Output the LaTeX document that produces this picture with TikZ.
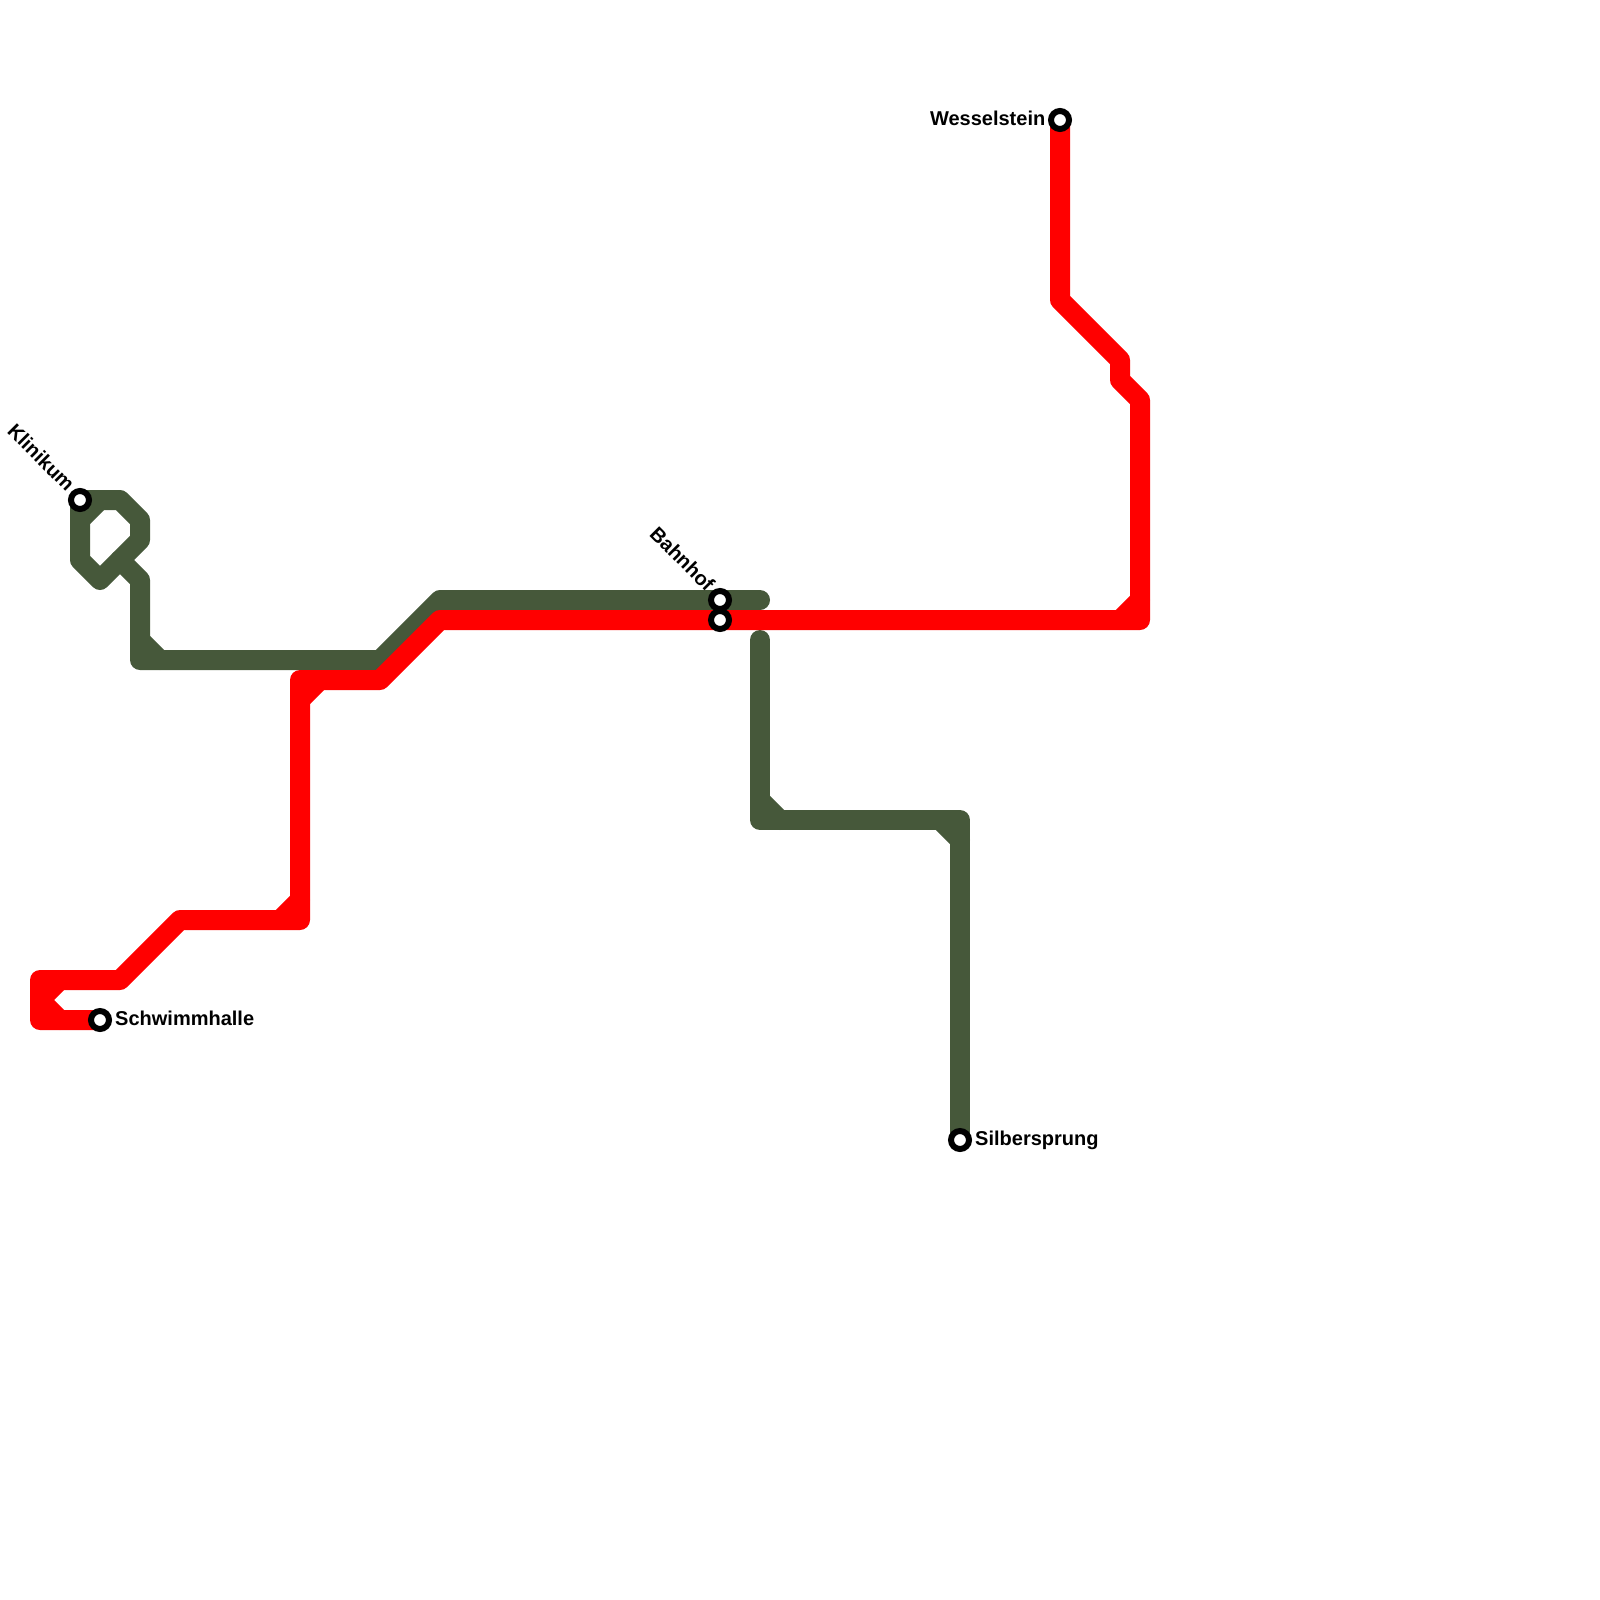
\documentclass[tikz,border=0pt]{standalone}
\usepackage{fontspec}
\setsansfont{Liberation Sans}
\usepackage{xcolor}
\definecolor{linegreen}{HTML}{46583A}
\definecolor{linered}{HTML}{FF0000}

\begin{document}
\begin{tikzpicture}[x=20pt, y=-20pt]
        \tikzstyle{route} = [line width=20pt, line cap=round, line join=round]
        \tikzstyle{station} = [draw=black, fill=white, circle, line width=6pt, minimum size=18pt, inner sep=0pt]
        \tikzstyle{stationlabel} = [inner sep=0pt, font=\sffamily\bfseries\fontsize{20}{24}\selectfont]

        \useasboundingbox (0,0) rectangle (80,80);

        % stations first, they are painted again on top below
        \coordinate (wesselstein) at (53,6);
        \coordinate (klinikum) at (4,25);
        \coordinate (bahnhofG) at (36,30);
        \coordinate (bahnhofR) at (36,31);
        \coordinate (schwimmhalle) at (5,51);
        \coordinate (silbersprung) at (48,57);

        % green line
        \draw[route, linegreen] (klinikum) -- (6,25) -- (7,26) -- (7,27) -- (5,29) -- (4,28) -- cycle;
        \draw[route, linegreen] (4,26) -- (5,25);
        \draw[route, linegreen] (6,28) -- (7,29) -- (7,33) -- (19,33) -- (22,30) -- (bahnhofG) -- (38,30);
        \draw[route, linegreen] (7,32) -- (8,33);
        \draw[route, linegreen] (38,32) -- (38,41) -- (48,41) -- (silbersprung);
        \draw[route, linegreen] (38,40) -- (39,41);
        \draw[route, linegreen] (47,41) -- (48,42);

        % red line
        \draw[route, linered] (wesselstein) -- (53,15) -- (56,18) -- (56,19) -- (57,20) -- (57,31) -- (bahnhofR) -- (22,31) -- (19,34) -- (15,34) -- (15,46) -- (9,46) -- (6,49) -- (2,49) -- (2,51) -- (schwimmhalle);
        \draw[route, linered] (57,30) -- (56,31);
        \draw[route, linered] (15,35) -- (16,34);
        \draw[route, linered] (15,45) -- (14,46);
        \draw[route, linered] (2,50) -- (3,49);
        \draw[route, linered] (2,50) -- (3,51);

        \node[station] (stWesselstein) at (wesselstein) {};
        \node[station] (stKlinikum) at (klinikum) {};
        \node[station] (stBahnhofG) at (bahnhofG) {};
        \node[station] (stBahnhofR) at (bahnhofR) {};
        \node[station] (stSchwimmhalle) at (schwimmhalle) {};
        \node[station] (stSilbersprung) at (silbersprung) {};

        \node[stationlabel, anchor=base east, xshift=-14.5pt, yshift=-5.5pt] (lblWesselstein) at (wesselstein) {Wesselstein};
        \node[stationlabel, anchor=base west, xshift=15pt, yshift=-5pt] (lblSchwimmhalle) at (schwimmhalle) {Schwimmhalle};
        \node[stationlabel, anchor=base west, xshift=15pt, yshift=-5pt] (lblSilbersprung) at (silbersprung) {Silbersprung};
        \node[stationlabel, anchor=base east, rotate=-45, xshift=-15pt, yshift=-4.5pt] (lblKlinikum) at (klinikum) {Klinikum};
        \node[stationlabel, anchor=base east, rotate=-45, xshift=-15pt, yshift=-4.5pt] (lblBahnhof) at (bahnhofG) {Bahnhof};
    \end{tikzpicture}
\end{document}
